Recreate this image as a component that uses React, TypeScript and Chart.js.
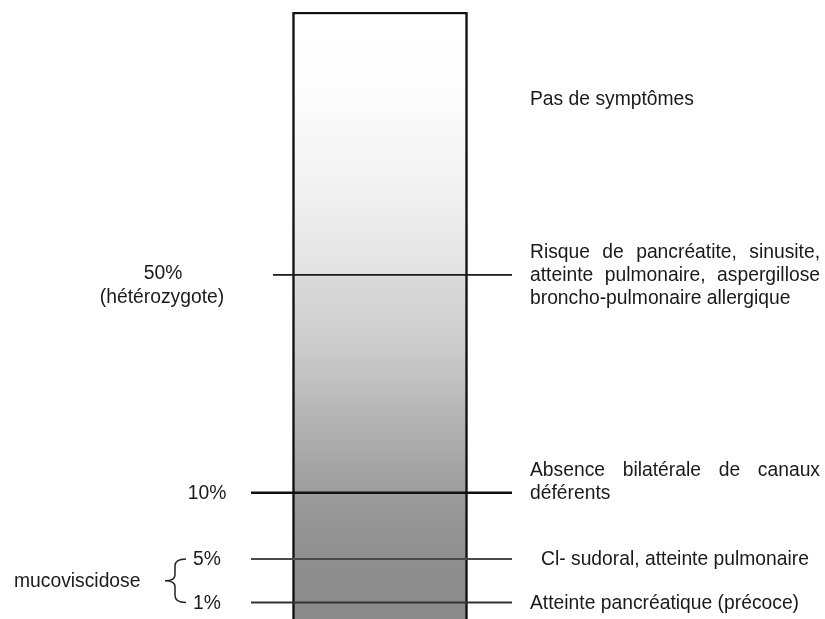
import React, { useEffect, useRef } from 'react';
import { Chart, registerables } from 'chart.js';

Chart.register(...registerables);

// ---- Data ----
// Residual CFTR function levels and their position on the schematic track (0 = bottom, 100 = top of bar)
const levelLabels = ['50%', '10%', '5%', '1%'];
const levelNotes = ['(hétérozygote)', '', '', ''];
const levelPositions = [56.7, 20.8, 9.9, 2.7];

// Phenotype descriptions on the right, with their track positions
const phenotypeLines = [
  ['Pas de symptômes'],
  ['Risque de pancréatite, sinusite,', 'atteinte pulmonaire, aspergillose', 'broncho-pulmonaire allergique'],
  ['Absence bilatérale de canaux', 'déférents'],
  ['Cl- sudoral, atteinte pulmonaire'],
  ['Atteinte pancréatique (précoce)'],
];
const phenotypePositions = [85.7, 56.7, 20.8, 9.9, 2.7];
const phenotypeAnchorLine = [0, 1, 1, 0, 0];

const groupLabel = 'mucoviscidose';
const groupLevels = ['5%', '1%'];
const trackRange = [0, 100];

export default function App() {
  const canvasRef = useRef<HTMLCanvasElement | null>(null);

  useEffect(() => {
    const canvas = canvasRef.current;
    if (!canvas) return;

    const W = 825;
    const FONT = '19.3px "Liberation Sans", Arial, sans-serif';
    const TEXT_COLOR = '#1a1a1a';
    const barCenterX = 380;
    const barWidth = 175;
    const lineEndX = 512;
    const lineStyles = [
      { x0: 273, width: 1.7, color: '#1a1a1a' },
      { x0: 251, width: 2.4, color: '#111111' },
      { x0: 251, width: 2, color: '#4a4a4a' },
      { x0: 251, width: 2, color: '#333333' },
    ];
    const leftLabelX = [163, 207, 207, 207];
    const leftLabelDy = [-1, 1, 1, 1];
    const noteDy = 23;
    const rightX = 530;
    const rightEdge = 820;
    const rightIndent = [0, 0, 0, 11, 0];
    const lineHeight = 23;
    const gradientStops: [number, string][] = [
      [0, '#ffffff'],
      [0.1, '#fefefe'],
      [0.25, '#f5f5f5'],
      [0.43, '#e3e3e3'],
      [0.44, '#dadada'],
      [0.56, '#cacaca'],
      [0.68, '#b2b2b2'],
      [0.79, '#9d9d9d'],
      [0.86, '#939393'],
      [0.92, '#8e8e8e'],
      [1, '#8b8b8b'],
    ];

    const drawJustified = (ctx: CanvasRenderingContext2D, text: string, x: number, y: number, right: number) => {
      const words = text.split(' ');
      const widths = words.map((w) => ctx.measureText(w).width);
      const total = widths.reduce((a, b) => a + b, 0);
      const gap = words.length > 1 ? (right - x - total) / (words.length - 1) : 0;
      let cx = x;
      words.forEach((w, i) => {
        ctx.fillText(w, cx, y);
        cx += widths[i] + gap;
      });
    };

    const labelPlugin = {
      id: 'schemaLabels',
      afterDatasetsDraw(chart: any) {
        const ctx: CanvasRenderingContext2D = chart.ctx;
        const yScale = chart.scales.y;
        ctx.save();
        ctx.font = FONT;
        ctx.fillStyle = TEXT_COLOR;
        ctx.textBaseline = 'middle';

        // Left level labels
        levelLabels.forEach((lab, i) => {
          const y = yScale.getPixelForValue(levelPositions[i]);
          ctx.textAlign = 'center';
          ctx.fillText(lab, leftLabelX[i], y + leftLabelDy[i]);
          if (levelNotes[i]) {
            ctx.fillText(levelNotes[i], leftLabelX[i] - 1, y + noteDy);
          }
        });

        // Right phenotype texts
        ctx.textAlign = 'left';
        phenotypeLines.forEach((lines, i) => {
          const yAnchor = yScale.getPixelForValue(phenotypePositions[i]);
          const x = rightX + rightIndent[i];
          lines.forEach((line, j) => {
            const y = yAnchor + (j - phenotypeAnchorLine[i]) * lineHeight + 1;
            const justify = lines.length > 1 && j < lines.length - 1;
            if (justify) drawJustified(ctx, line, x, y, rightEdge);
            else ctx.fillText(line, x, y);
          });
        });

        // Brace for mucoviscidose group
        const gi0 = levelLabels.indexOf(groupLevels[0]);
        const gi1 = levelLabels.indexOf(groupLevels[1]);
        const yTop = yScale.getPixelForValue(levelPositions[gi0]);
        const yBot = yScale.getPixelForValue(levelPositions[gi1]);
        const yMid = (yTop + yBot) / 2;
        const bx = 175;
        const tipX = 165;
        const endX = 186;
        ctx.strokeStyle = '#222222';
        ctx.lineWidth = 1.5;
        ctx.beginPath();
        ctx.moveTo(endX, yTop);
        ctx.quadraticCurveTo(bx, yTop, bx, yTop + 7);
        ctx.lineTo(bx, yMid - 6);
        ctx.quadraticCurveTo(bx, yMid, tipX, yMid);
        ctx.quadraticCurveTo(bx, yMid, bx, yMid + 6);
        ctx.lineTo(bx, yBot - 7);
        ctx.quadraticCurveTo(bx, yBot, endX, yBot);
        ctx.stroke();

        ctx.textAlign = 'left';
        ctx.fillText(groupLabel, 14, yMid + 1);
        ctx.restore();
      },
    };

    const lineDatasets = levelPositions.map((pos, i) => ({
      type: 'line' as const,
      data: [
        { x: lineStyles[i].x0, y: pos },
        { x: lineEndX, y: pos },
      ],
      borderColor: lineStyles[i].color,
      borderWidth: lineStyles[i].width,
      pointRadius: 0,
      fill: false,
      order: 1,
      clip: false as any,
    }));

    const chart = new Chart(canvas, {
      type: 'bar',
      data: {
        datasets: [
          {
            type: 'bar' as const,
            data: [{ x: barCenterX, y: [trackRange[0], trackRange[1]] }] as any,
            backgroundColor: (c: any) => {
              const { ctx, chartArea } = c.chart;
              if (!chartArea) return '#cccccc';
              const g = ctx.createLinearGradient(0, chartArea.top, 0, chartArea.bottom);
              gradientStops.forEach(([o, col]) => g.addColorStop(o, col));
              return g;
            },
            borderColor: '#111111',
            borderWidth: 2.5,
            borderSkipped: 'start',
            barThickness: barWidth,
            order: 2,
          } as any,
          ...(lineDatasets as any),
        ],
      },
      options: {
        animation: false,
        responsive: false,
        maintainAspectRatio: false,
        layout: { padding: { top: 12, left: 0, right: 0, bottom: 0 } },
        plugins: { legend: { display: false }, tooltip: { enabled: false } },
        scales: {
          x: { type: 'linear', display: false, min: 0, max: W, offset: false, grid: { display: false } },
          y: { type: 'linear', display: false, min: trackRange[0], max: trackRange[1], grid: { display: false } },
        },
      },
      plugins: [labelPlugin],
    });

    return () => chart.destroy();
  }, []);

  return (
    <div style={{ position: 'fixed', left: 0, top: 0, width: 825, height: 619, background: '#ffffff' }}>
      <canvas ref={canvasRef} width={825} height={619} style={{ display: 'block', width: 825, height: 619 }} />
    </div>
  );
}
